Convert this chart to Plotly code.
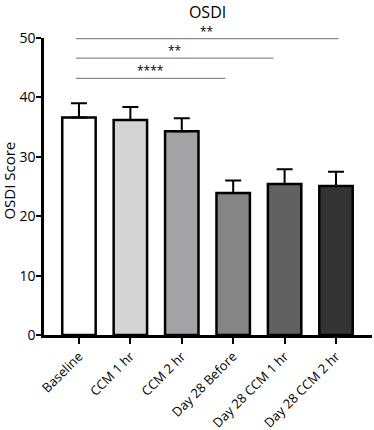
import plotly.graph_objects as go

categories = ["Baseline", "CCM 1 hr", "CCM 2 hr", "Day 28 Before", "Day 28 CCM 1 hr", "Day 28 CCM 2 hr"]
means = [36.6, 36.2, 34.3, 23.9, 25.4, 25.1]
sem = [2.4, 2.2, 2.2, 2.1, 2.5, 2.4]
colors = ["#ffffff", "#d4d4d4", "#a3a3a5", "#858585", "#616161", "#333333"]

sig_x0 = [-0.06, -0.06, -0.06]
sig_x1 = [2.85, 3.78, 5.05]
sig_y = [43.2, 46.6, 49.9]
sig_labels = ["****", "**", "**"]

FONT = "Open Sans"

fig = go.Figure()
fig.add_trace(go.Bar(
    x=list(range(len(categories))), y=means,
    marker=dict(color=colors, line=dict(color="black", width=2.5)),
    width=0.65,
    error_y=dict(type="data", array=sem, arrayminus=[0]*len(sem), symmetric=False,
                 color="black", thickness=2, width=8),
    showlegend=False,
))

for x0, x1, y, lab in zip(sig_x0, sig_x1, sig_y, sig_labels):
    fig.add_shape(type="line", x0=x0, x1=x1, y0=y, y1=y, xref="x", yref="y",
                  line=dict(color="#8a8a8a", width=1.3))
    fig.add_annotation(x=(x0 + x1) / 2, y=y, text=lab, showarrow=False,
                       yanchor="bottom", yshift=-3, font=dict(family=FONT, size=12, color="black"))

fig.add_annotation(text="OSDI Score", xref="paper", yref="paper", x=0, y=0.52,
                   xshift=-35, textangle=-90, showarrow=False,
                   xanchor="center", yanchor="middle",
                   font=dict(family=FONT, size=15, color="black"))

fig.update_layout(
    width=374, height=430,
    margin=dict(l=44, r=2, t=38, b=95),
    plot_bgcolor="white", paper_bgcolor="white",
    title=dict(text="OSDI", x=0.555, xanchor="center", y=0.985, yanchor="top",
               font=dict(family=FONT, size=16, color="black")),
    font=dict(family=FONT, color="black"),
    bargap=0.35,
)
fig.update_xaxes(
    range=[-0.68, 5.7], tickvals=list(range(len(categories))), ticktext=categories,
    tickangle=-45, showline=True, linecolor="black", linewidth=2.5,
    ticks="outside", ticklen=6, tickwidth=2, tickcolor="black", automargin=False,
    showgrid=False, zeroline=False, tickfont=dict(family=FONT, size=13, color="black"),
)
fig.update_yaxes(
    range=[0, 50], tickvals=[0, 10, 20, 30, 40, 50],
    showline=True, linecolor="black", linewidth=2.5, automargin=False,
    ticks="outside", ticklen=5, tickwidth=2, tickcolor="black", ticklabelstandoff=-2,
    showgrid=False, zeroline=False, tickfont=dict(family=FONT, size=14, color="black"),
)

fig.write_html("out.html", config={"displayModeBar": False},
               post_script="document.body.style.margin='0';document.body.style.overflow='hidden';")
